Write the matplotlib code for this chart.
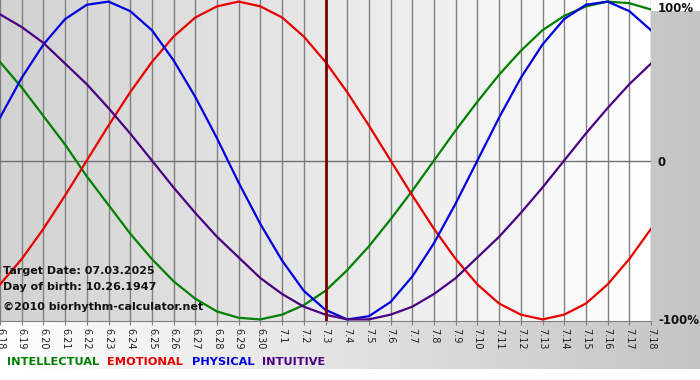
import matplotlib
matplotlib.use("Agg")
import matplotlib.pyplot as plt
import numpy as np

days = ["6.18", "6.19", "6.20", "6.21", "6.22", "6.23", "6.24", "6.25", "6.26", "6.27",
        "6.28", "6.29", "6.30", "7.1", "7.2", "7.3", "7.4", "7.5", "7.6", "7.7", "7.8",
        "7.9", "7.10", "7.11", "7.12", "7.13", "7.14", "7.15", "7.16", "7.17", "7.18"]

physical = [0.27, 0.52, 0.73, 0.89, 0.98, 1.00, 0.94, 0.82, 0.63, 0.40, 0.14, -0.14,
            -0.40, -0.63, -0.82, -0.94, -1.00, -0.98, -0.89, -0.73, -0.52, -0.27, 0.00,
            0.27, 0.52, 0.73, 0.89, 0.98, 1.00, 0.94, 0.82]
emotional = [-0.78, -0.62, -0.43, -0.22, 0.00, 0.22, 0.43, 0.62, 0.78, 0.90, 0.97, 1.00,
             0.97, 0.90, 0.78, 0.62, 0.43, 0.22, 0.00, -0.22, -0.43, -0.62, -0.78, -0.90,
             -0.97, -1.00, -0.97, -0.90, -0.78, -0.62, -0.43]
intellectual = [0.62, 0.46, 0.28, 0.10, -0.10, -0.28, -0.46, -0.62, -0.76, -0.87, -0.95,
                -0.99, -1.00, -0.97, -0.91, -0.82, -0.69, -0.54, -0.37, -0.19, 0.00, 0.19,
                0.37, 0.54, 0.69, 0.82, 0.91, 0.97, 1.00, 0.99, 0.95]
intuitive = [0.92, 0.84, 0.74, 0.61, 0.48, 0.33, 0.17, 0.00, -0.17, -0.33, -0.48, -0.61,
             -0.74, -0.84, -0.92, -0.97, -1.00, -1.00, -0.97, -0.92, -0.84, -0.74, -0.61,
             -0.48, -0.33, -0.17, 0.00, 0.17, 0.33, 0.48, 0.61]

target_day = "7.3"
colors = {"INTELLECTUAL": "#008000", "EMOTIONAL": "#e80000",
          "PHYSICAL": "#0000e0", "INTUITIVE": "#4b0082"}

W, H = 700, 380
fig = plt.figure(figsize=(W / 100, H / 100), dpi=100)
grad = np.linspace(0, 1, 256).reshape(1, -1)
lsc = matplotlib.colors.LinearSegmentedColormap.from_list

# outer background: horizontal gradient white -> gray
bg = fig.add_axes([0, 11 / H, 1, 358 / H])
bg.imshow(grad, cmap=lsc("g", ["#ffffff", "#c4c4c4"]), aspect="auto", extent=[0, 1, 0, 1])
bg.axis("off")

ax = fig.add_axes([0, 1 - 321 / H, 651 / W, 321 / H])
x = np.arange(len(days))
ax.imshow(grad, cmap=lsc("p", ["#d2d2d2", "#ffffff"]), aspect="auto",
          extent=[0, len(days) - 1, -1.01, 1.01], zorder=0)
ax.set_xlim(0, len(days) - 1)
ax.set_ylim(-1.01, 1.01)

for xi in x:
    ax.axvline(xi, color="#808080", lw=1, zorder=1)
ax.axhline(0, color="#707070", lw=1, zorder=1)

ax.plot(x, intellectual, color=colors["INTELLECTUAL"], lw=1.6, zorder=3)
ax.plot(x, emotional, color=colors["EMOTIONAL"], lw=1.6, zorder=3)
ax.plot(x, physical, color=colors["PHYSICAL"], lw=1.6, zorder=3)
ax.plot(x, intuitive, color=colors["INTUITIVE"], lw=1.6, zorder=3)
ax.axvline(days.index(target_day), color="#7a0000", lw=2, zorder=4)

for s in ["top", "left", "right"]:
    ax.spines[s].set_visible(False)
ax.spines["bottom"].set_color("#808080")

ax.set_xticks(x)
ax.set_xticklabels(days, rotation=270, fontsize=7, color="#222222")
ax.tick_params(axis="x", direction="out", length=3, color="#808080", pad=2)
ax.yaxis.tick_right()
ax.set_yticks([1, 0, -1])
ax.set_yticklabels(["100%", "0", "-100%"], fontsize=8.5, fontweight="bold", color="#111111")
ax.tick_params(axis="y", length=0, pad=5)
ax.get_yticklabels()[0].set_va("top")

fig.text(3 / W, 1 - 271 / H, "Target Date: 07.03.2025", fontsize=8, fontweight="bold",
         color="#111111", va="center")
fig.text(3 / W, 1 - 287 / H, "Day of birth: 10.26.1947", fontsize=8, fontweight="bold",
         color="#111111", va="center")
fig.text(3 / W, 1 - 307 / H, "\u00a92010 biorhythm-calculator.net", fontsize=8,
         fontweight="bold", color="#111111", va="center")

for name, xp in zip(["INTELLECTUAL", "EMOTIONAL", "PHYSICAL", "INTUITIVE"], [7, 107, 192, 262]):
    fig.text(xp / W, 1 - 362 / H, name, fontsize=8.2, fontweight="bold",
             color=colors[name], va="center")

fig.savefig("out.png", dpi=100)
